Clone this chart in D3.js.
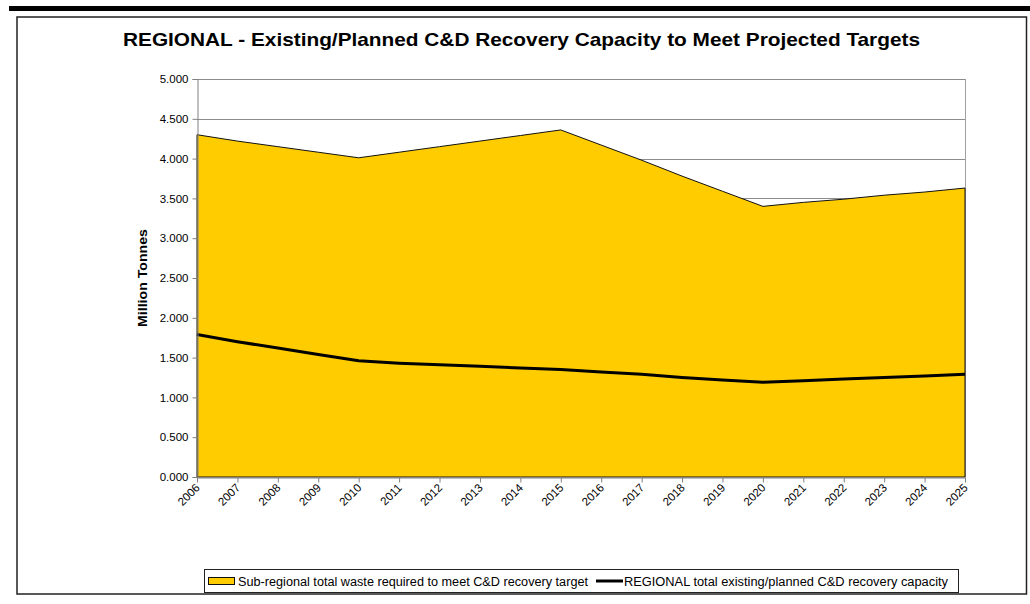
<!DOCTYPE html>
<html>
<head>
<meta charset="utf-8">
<script src="https://cdn.jsdelivr.net/npm/d3@7"></script>
<style>
  body { margin: 0; background: #fff; }
  svg { display: block; font-family: "Liberation Sans", Arial, sans-serif; }
</style>
</head>
<body>
<svg id="chart" width="1030" height="604"></svg>
<script>
// Years on the category axis
const years = ["2006","2007","2008","2009","2010","2011","2012","2013","2014","2015",
               "2016","2017","2018","2019","2020","2021","2022","2023","2024","2025"];

// Sub-regional total waste required to meet the C&D recovery target (million tonnes)
const targetWaste = [4.30, 4.22, 4.15, 4.08, 4.01, 4.08, 4.15, 4.22, 4.29, 4.36,
                     4.17, 3.98, 3.78, 3.59, 3.40, 3.45, 3.49, 3.54, 3.58, 3.63];

// Regional total existing/planned C&D recovery capacity (million tonnes)
const capacity = [1.79, 1.70, 1.62, 1.54, 1.46, 1.43, 1.41, 1.39, 1.37, 1.35,
                  1.32, 1.29, 1.25, 1.22, 1.19, 1.21, 1.23, 1.25, 1.27, 1.29];

const yTicks = [0, 0.5, 1, 1.5, 2, 2.5, 3, 3.5, 4, 4.5, 5];

const seriesNames = ["Sub-regional total waste required to meet C&D recovery target",
                     "REGIONAL total existing/planned C&D recovery capacity"];

const titleText = "REGIONAL - Existing/Planned C&D Recovery Capacity to Meet Projected Targets";
const yLabel = "Million Tonnes";

const svg = d3.select("#chart");

// Heavy rule across the top of the page
svg.append("rect").attr("x", 9).attr("y", 6).attr("width", 1021).attr("height", 5).attr("fill", "#000");

// Chart frame
svg.append("rect").attr("x", 17).attr("y", 17).attr("width", 1009.5).attr("height", 577)
  .attr("fill", "#fff").attr("stroke", "#222").attr("stroke-width", 1.5);

const plot = { left: 197, right: 965, top: 79, bottom: 477 };

const x = d3.scalePoint().domain(years).range([plot.left, plot.right]);
const y = d3.scaleLinear().domain([0, 5]).range([plot.bottom, plot.top]);

// Title
svg.append("text")
  .attr("x", 123).attr("y", 46)
  .attr("font-size", 18.5).attr("font-weight", "bold")
  .attr("textLength", 797).attr("lengthAdjust", "spacingAndGlyphs")
  .text(titleText);

// Horizontal gridlines
svg.append("g").selectAll("line").data(yTicks.filter(d => d > 0)).join("line")
  .attr("x1", plot.left).attr("x2", plot.right)
  .attr("y1", d => Math.round(y(d)) + 0.5).attr("y2", d => Math.round(y(d)) + 0.5)
  .attr("stroke", "#8c8c8c").attr("stroke-width", 1);

// Right border of the plot area
svg.append("line")
  .attr("x1", plot.right + 0.5).attr("x2", plot.right + 0.5)
  .attr("y1", plot.top).attr("y2", plot.bottom)
  .attr("stroke", "#a0a0a0");

// Target waste area
const area = d3.area()
  .x((d, i) => x(years[i]))
  .y0(y(0))
  .y1(d => y(d));
svg.append("path")
  .datum(targetWaste)
  .attr("d", area)
  .attr("fill", "#FFCC00")
  .attr("stroke", "#111").attr("stroke-width", 1);

// Capacity line
const line = d3.line()
  .x((d, i) => x(years[i]))
  .y(d => y(d));
svg.append("path")
  .datum(capacity)
  .attr("d", line)
  .attr("fill", "none")
  .attr("stroke", "#000").attr("stroke-width", 3)
  .attr("stroke-linejoin", "round");

// Y axis
const yAxis = svg.append("g")
  .attr("transform", `translate(${plot.left + 0.5},0)`)
  .call(d3.axisLeft(y).tickValues(yTicks).tickFormat(d3.format(".3f")).tickSize(5).tickPadding(4));
yAxis.select(".domain").attr("stroke", "#808080");
yAxis.selectAll(".tick line").attr("stroke", "#808080");
yAxis.selectAll(".tick text").attr("font-size", 11.5).attr("fill", "#000")
  .attr("font-family", "Liberation Sans, Arial, sans-serif");

// X axis
const xAxis = svg.append("g")
  .attr("transform", `translate(0,${plot.bottom + 0.5})`)
  .call(d3.axisBottom(x).tickSize(5).tickSizeOuter(0));
xAxis.select(".domain").attr("stroke", "#808080");
xAxis.selectAll(".tick line").attr("stroke", "#808080");
xAxis.selectAll(".tick text")
  .attr("font-size", 11.5).attr("fill", "#000")
  .attr("font-family", "Liberation Sans, Arial, sans-serif")
  .attr("text-anchor", "end")
  .attr("dy", null)
  .attr("y", 0)
  .attr("transform", "translate(3,11) rotate(-45)");

// Y axis title
svg.append("text")
  .attr("transform", `translate(147,${(plot.top + plot.bottom) / 2}) rotate(-90)`)
  .attr("text-anchor", "middle")
  .attr("font-size", 13.5).attr("font-weight", "bold")
  .attr("textLength", 98).attr("lengthAdjust", "spacingAndGlyphs")
  .text(yLabel);

// Legend
const legend = svg.append("g");
legend.append("rect")
  .attr("x", 204.5).attr("y", 569.5).attr("width", 754).attr("height", 23)
  .attr("fill", "#fff").attr("stroke", "#222").attr("stroke-width", 1);
legend.append("rect")
  .attr("x", 208.5).attr("y", 577.5).attr("width", 26).attr("height", 7)
  .attr("fill", "#FFCC00").attr("stroke", "#111").attr("stroke-width", 1);
legend.append("text")
  .attr("x", 238).attr("y", 586)
  .attr("font-size", 12)
  .attr("textLength", 350).attr("lengthAdjust", "spacingAndGlyphs")
  .text(seriesNames[0]);
legend.append("line")
  .attr("x1", 596).attr("x2", 623).attr("y1", 581).attr("y2", 581)
  .attr("stroke", "#000").attr("stroke-width", 3);
legend.append("text")
  .attr("x", 624).attr("y", 586)
  .attr("font-size", 12)
  .attr("textLength", 324).attr("lengthAdjust", "spacingAndGlyphs")
  .text(seriesNames[1]);
</script>
</body>
</html>
